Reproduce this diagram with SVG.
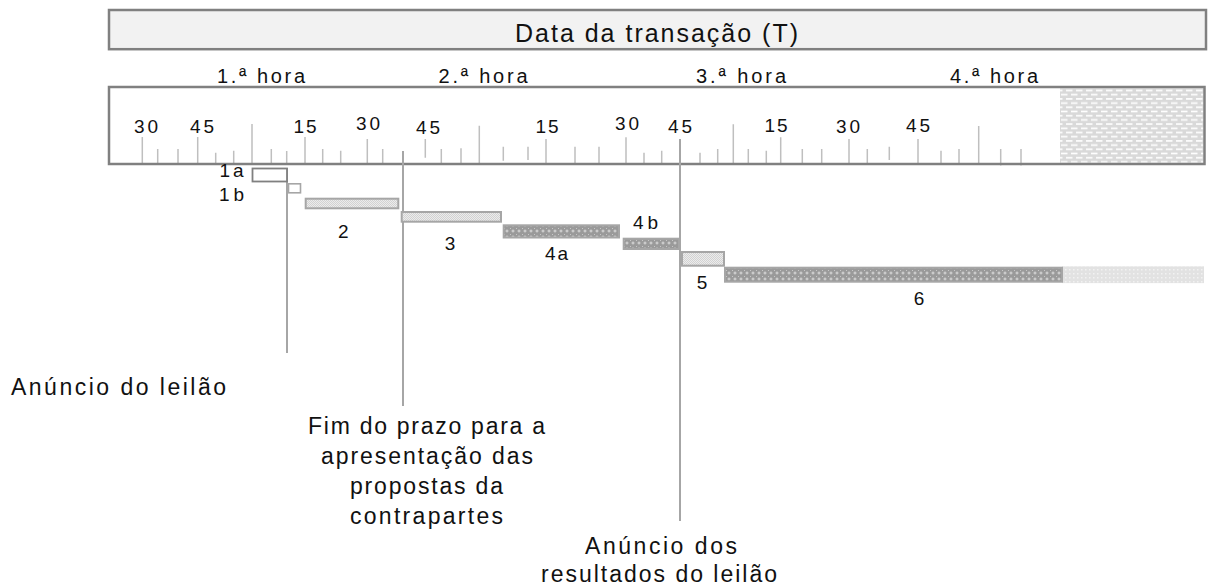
<svg xmlns="http://www.w3.org/2000/svg" width="1211" height="586" viewBox="0 0 1211 586">
<style>
text{font-family:"Liberation Sans",Arial,sans-serif;fill:#111;}
.hdr{font-size:25px;}
.hr{font-size:20px;}
.mn{font-size:19px;}
.lb{font-size:19px;}
.bl{font-size:23px;}
.tick{stroke:#bfbfbf;stroke-width:1.5;fill:none;}
.conn{stroke:#a6a6a6;stroke-width:2;fill:none;}
.light{fill:url(#pLight);stroke:#a6a6a6;stroke-width:2;}
.dark{fill:url(#pDark);stroke:#a6a6a6;stroke-width:2;}
</style>
<defs>
<pattern id="pLight" width="2" height="2" patternUnits="userSpaceOnUse">
<rect width="2" height="2" fill="#ececec"/>
<rect width="1" height="1" fill="#d2d2d2"/>
<rect x="1" y="1" width="1" height="1" fill="#d2d2d2"/>
</pattern>
<pattern id="pDark" width="6" height="6" patternUnits="userSpaceOnUse">
<rect width="6" height="6" fill="#9a9a9a"/>
<rect x="2.5" y="1.5" width="1" height="3" fill="#dcdcdc"/>
<rect x="1.5" y="2.5" width="3" height="1" fill="#dcdcdc"/>
<rect x="0" y="0" width="1" height="1" fill="#c8c8c8"/>
</pattern>
<pattern id="pExt" width="4" height="4" patternUnits="userSpaceOnUse">
<rect width="4" height="4" fill="#e2e2e2"/>
<rect x="1" y="1" width="1.5" height="1.5" fill="#f2f2f2"/>
</pattern>
<pattern id="pBrick" width="10" height="8.4" patternUnits="userSpaceOnUse">
<rect width="10" height="8.4" fill="#d9d9d9"/>
<rect x="1" y="1.5" width="6.5" height="1.6" fill="#ffffff"/>
<rect x="6" y="5.7" width="6.5" height="1.6" fill="#ffffff"/>
<rect x="-4" y="5.7" width="6.5" height="1.6" fill="#ffffff"/>
</pattern>
</defs>

<g id="header">
<rect x="109" y="10" width="1097" height="39.2" fill="#f2f2f2" stroke="#808080" stroke-width="2.5"/>
<text class="hdr" x="656.5" y="41.5" text-anchor="middle" textLength="283" lengthAdjust="spacing">Data da transação (T)</text>
</g>

<g id="hours">
<text class="hr" x="261" y="83" text-anchor="middle" textLength="88" lengthAdjust="spacing">1.ª hora</text>
<text class="hr" x="483" y="83" text-anchor="middle" textLength="89" lengthAdjust="spacing">2.ª hora</text>
<text class="hr" x="741" y="83" text-anchor="middle" textLength="90" lengthAdjust="spacing">3.ª hora</text>
<text class="hr" x="994" y="83" text-anchor="middle" textLength="88" lengthAdjust="spacing">4.ª hora</text>
</g>

<g id="ruler">
<rect x="109" y="87" width="1095.5" height="77" fill="#ffffff"/>
<rect x="1060" y="88.3" width="143.5" height="74.5" fill="url(#pBrick)"/>
<path class="tick" d="M142.3 137V164 M157.7 149V164 M178 149V164 M197.7 137V164 M215.7 152.7V164 M233.7 150.7V164 M252 124V164 M271.3 149V164 M286.7 151V164 M305 137V164 M322.7 149V164 M340.7 150.7V164 M367.3 139V164 M382.7 149V164 M403 151V164 M425.3 139V157.7 M441.3 149V164 M461 148.3V164 M479.3 125.7V164 M503.3 146.7V160.7 M528 146.7V160 M546 139V164 M575 146.7V164 M599 146.7V164 M626 137.3V164 M644 152.7V164 M661.7 150.7V164 M680 139V164 M700 152.7V164 M717.7 149V164 M733.3 124.3V164 M748.3 149V164 M766.3 150.7V164 M780.7 137.3V164 M802.3 149V164 M821.7 149V164 M849 139V164 M867.3 149V164 M889.3 146.7V160 M918 139V164 M941 150.7V164 M959 149V164 M978.7 126V164 M1000.7 149V165.5 M1021 149V165.5"/>
<rect x="109" y="87" width="1095.5" height="77" fill="none" stroke="#808080" stroke-width="2.5"/>
<text class="mn" x="146" y="133" text-anchor="middle" textLength="24" lengthAdjust="spacing">30</text>
<text class="mn" x="202" y="133" text-anchor="middle" textLength="24" lengthAdjust="spacing">45</text>
<text class="mn" x="305" y="133" text-anchor="middle" textLength="23" lengthAdjust="spacing">15</text>
<text class="mn" x="368" y="130" text-anchor="middle" textLength="24" lengthAdjust="spacing">30</text>
<text class="mn" x="428" y="134" text-anchor="middle" textLength="24" lengthAdjust="spacing">45</text>
<text class="mn" x="547" y="133" text-anchor="middle" textLength="23" lengthAdjust="spacing">15</text>
<text class="mn" x="627" y="130" text-anchor="middle" textLength="24" lengthAdjust="spacing">30</text>
<text class="mn" x="680" y="133" text-anchor="middle" textLength="24" lengthAdjust="spacing">45</text>
<text class="mn" x="776" y="132" text-anchor="middle" textLength="23" lengthAdjust="spacing">15</text>
<text class="mn" x="848" y="133" text-anchor="middle" textLength="24" lengthAdjust="spacing">30</text>
<text class="mn" x="918" y="132" text-anchor="middle" textLength="24" lengthAdjust="spacing">45</text>
</g>

<g id="connectors">
<line class="conn" x1="287" y1="168" x2="287" y2="353"/>
<line class="conn" x1="403" y1="151" x2="403" y2="406"/>
<line class="conn" x1="680" y1="139" x2="680" y2="521"/>
</g>

<g id="task-1a">
<rect x="252.5" y="168.5" width="34.5" height="13" fill="#ffffff" stroke="#808080" stroke-width="1.8"/>
<text class="lb" x="231.5" y="177" text-anchor="middle" textLength="24" lengthAdjust="spacing">1a</text>
</g>
<g id="task-1b">
<rect x="288.5" y="183.8" width="12" height="9" fill="#ffffff" stroke="#a6a6a6" stroke-width="1.6"/>
<text class="lb" x="231.5" y="201" text-anchor="middle" textLength="25" lengthAdjust="spacing">1b</text>
</g>
<g id="task-2">
<rect class="light" x="305.7" y="198.7" width="92.6" height="9.6"/>
<text class="lb" x="343.3" y="238" text-anchor="middle">2</text>
</g>
<g id="task-3">
<rect class="light" x="401.7" y="212" width="99.3" height="9.7"/>
<text class="lb" x="450" y="249.5" text-anchor="middle">3</text>
</g>
<g id="task-4a">
<rect class="dark" x="503.7" y="225.3" width="115.3" height="12.2"/>
<text class="lb" x="556.5" y="260" text-anchor="middle" textLength="23" lengthAdjust="spacing">4a</text>
</g>
<g id="task-4b">
<rect class="dark" x="623.7" y="238.7" width="55.3" height="10.3"/>
<text class="lb" x="645.5" y="228.5" text-anchor="middle" textLength="25" lengthAdjust="spacing">4b</text>
</g>
<g id="task-5">
<rect class="light" x="682" y="252" width="42" height="13.7"/>
<text class="lb" x="702" y="288.5" text-anchor="middle">5</text>
</g>
<g id="task-6">
<rect x="1062" y="266.3" width="142" height="16.8" fill="url(#pExt)"/>
<rect class="dark" x="725" y="267.7" width="337" height="14"/>
<text class="lb" x="919" y="305" text-anchor="middle">6</text>
</g>

<g id="label-anuncio-leilao">
<text class="bl" x="118.5" y="395" text-anchor="middle" textLength="215" lengthAdjust="spacing">Anúncio do leilão</text>
</g>
<g id="label-fim-prazo">
<text class="bl" x="426.5" y="434" text-anchor="middle" textLength="237" lengthAdjust="spacing">Fim do prazo para a</text>
<text class="bl" x="427" y="464" text-anchor="middle" textLength="212" lengthAdjust="spacing">apresentação das</text>
<text class="bl" x="426.5" y="494" text-anchor="middle" textLength="153" lengthAdjust="spacing">propostas da</text>
<text class="bl" x="426.5" y="524" text-anchor="middle" textLength="153" lengthAdjust="spacing">contrapartes</text>
</g>
<g id="label-resultados">
<text class="bl" x="661" y="554" text-anchor="middle" textLength="152" lengthAdjust="spacing">Anúncio dos</text>
<text class="bl" x="659" y="582" text-anchor="middle" textLength="236" lengthAdjust="spacing">resultados do leilão</text>
</g>
</svg>
